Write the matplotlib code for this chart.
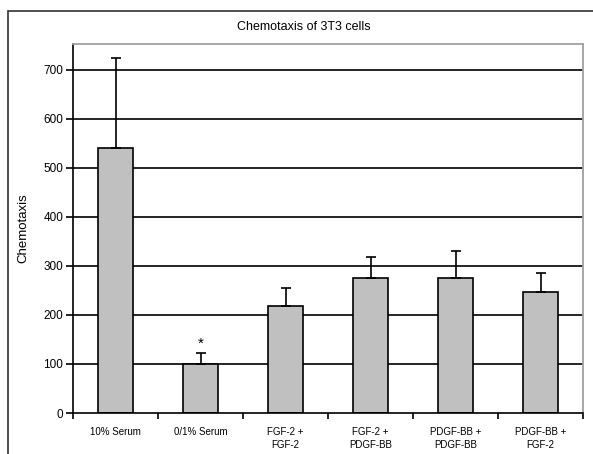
import numpy as np
from matplotlib import pyplot as plt
from matplotlib.patches import Rectangle

categories = ["10% Serum", "0/1% Serum", "FGF-2 +\nFGF-2", "FGF-2 +\nPDGF-BB",
              "PDGF-BB +\nPDGF-BB", "PDGF-BB +\nFGF-2"]
means = [540, 100, 218, 276, 276, 246]
errors = [185, 22, 37, 42, 54, 40]
y_ticks = [0, 100, 200, 300, 400, 500, 600, 700]

W, H = 593, 454
fig = plt.figure(figsize=(W / 100, H / 100), dpi=100)
plt.rcParams['font.family'] = ['Liberation Sans', 'DejaVu Sans']

# chart frame around everything
fig.patches.append(Rectangle((8 / W, -0.1), 1.2, 1 - 10.5 / H + 0.1,
                             transform=fig.transFigure, fill=False,
                             edgecolor='#333333', linewidth=1.2))

ax = fig.add_axes([73 / W, 1 - 413 / H, 510 / W, 369 / H])
x = np.arange(len(categories))

for y in y_ticks[1:]:
    ax.axhline(y, color='black', linewidth=1.2, zorder=0)

ax.bar(x, means, width=0.42, color='#c0c0c0', edgecolor='black', linewidth=1.2, zorder=2)
ax.errorbar(x, means, yerr=[np.zeros(len(means)), errors], fmt='none',
            ecolor='black', elinewidth=1.2, capsize=3.5, capthick=1.2, zorder=3)

# significance marker over the low-serum bar
ax.text(x[1], means[1] + errors[1] + 5, "*", ha='center', va='bottom', fontsize=11)

ax.set_xlim(-0.5, len(categories) - 0.5)
ax.set_ylim(0, 753)
ax.set_yticks(y_ticks)
ax.tick_params(axis='y', direction='out', length=5, width=1.2, labelsize=8.5, pad=2)

ax.set_xticks(x)
ax.set_xticklabels(categories, fontsize=7, linespacing=1.4)
ax.tick_params(axis='x', which='major', length=0, pad=10)
ax.set_xticks(np.arange(-0.5, len(categories)), minor=True)
ax.tick_params(axis='x', which='minor', direction='out', length=4, width=1.2)

for side in ['top', 'right']:
    ax.spines[side].set_color('#a0a0a0')
    ax.spines[side].set_linewidth(1.3)
for side in ['left', 'bottom']:
    ax.spines[side].set_color('black')
    ax.spines[side].set_linewidth(1.2)

ax.set_ylabel("Chemotaxis", fontsize=9.5, labelpad=10)
fig.text(0.513, 1 - 27 / H, "Chemotaxis of 3T3 cells", ha='center', va='center', fontsize=9)

fig.savefig("out.png", dpi=100)
